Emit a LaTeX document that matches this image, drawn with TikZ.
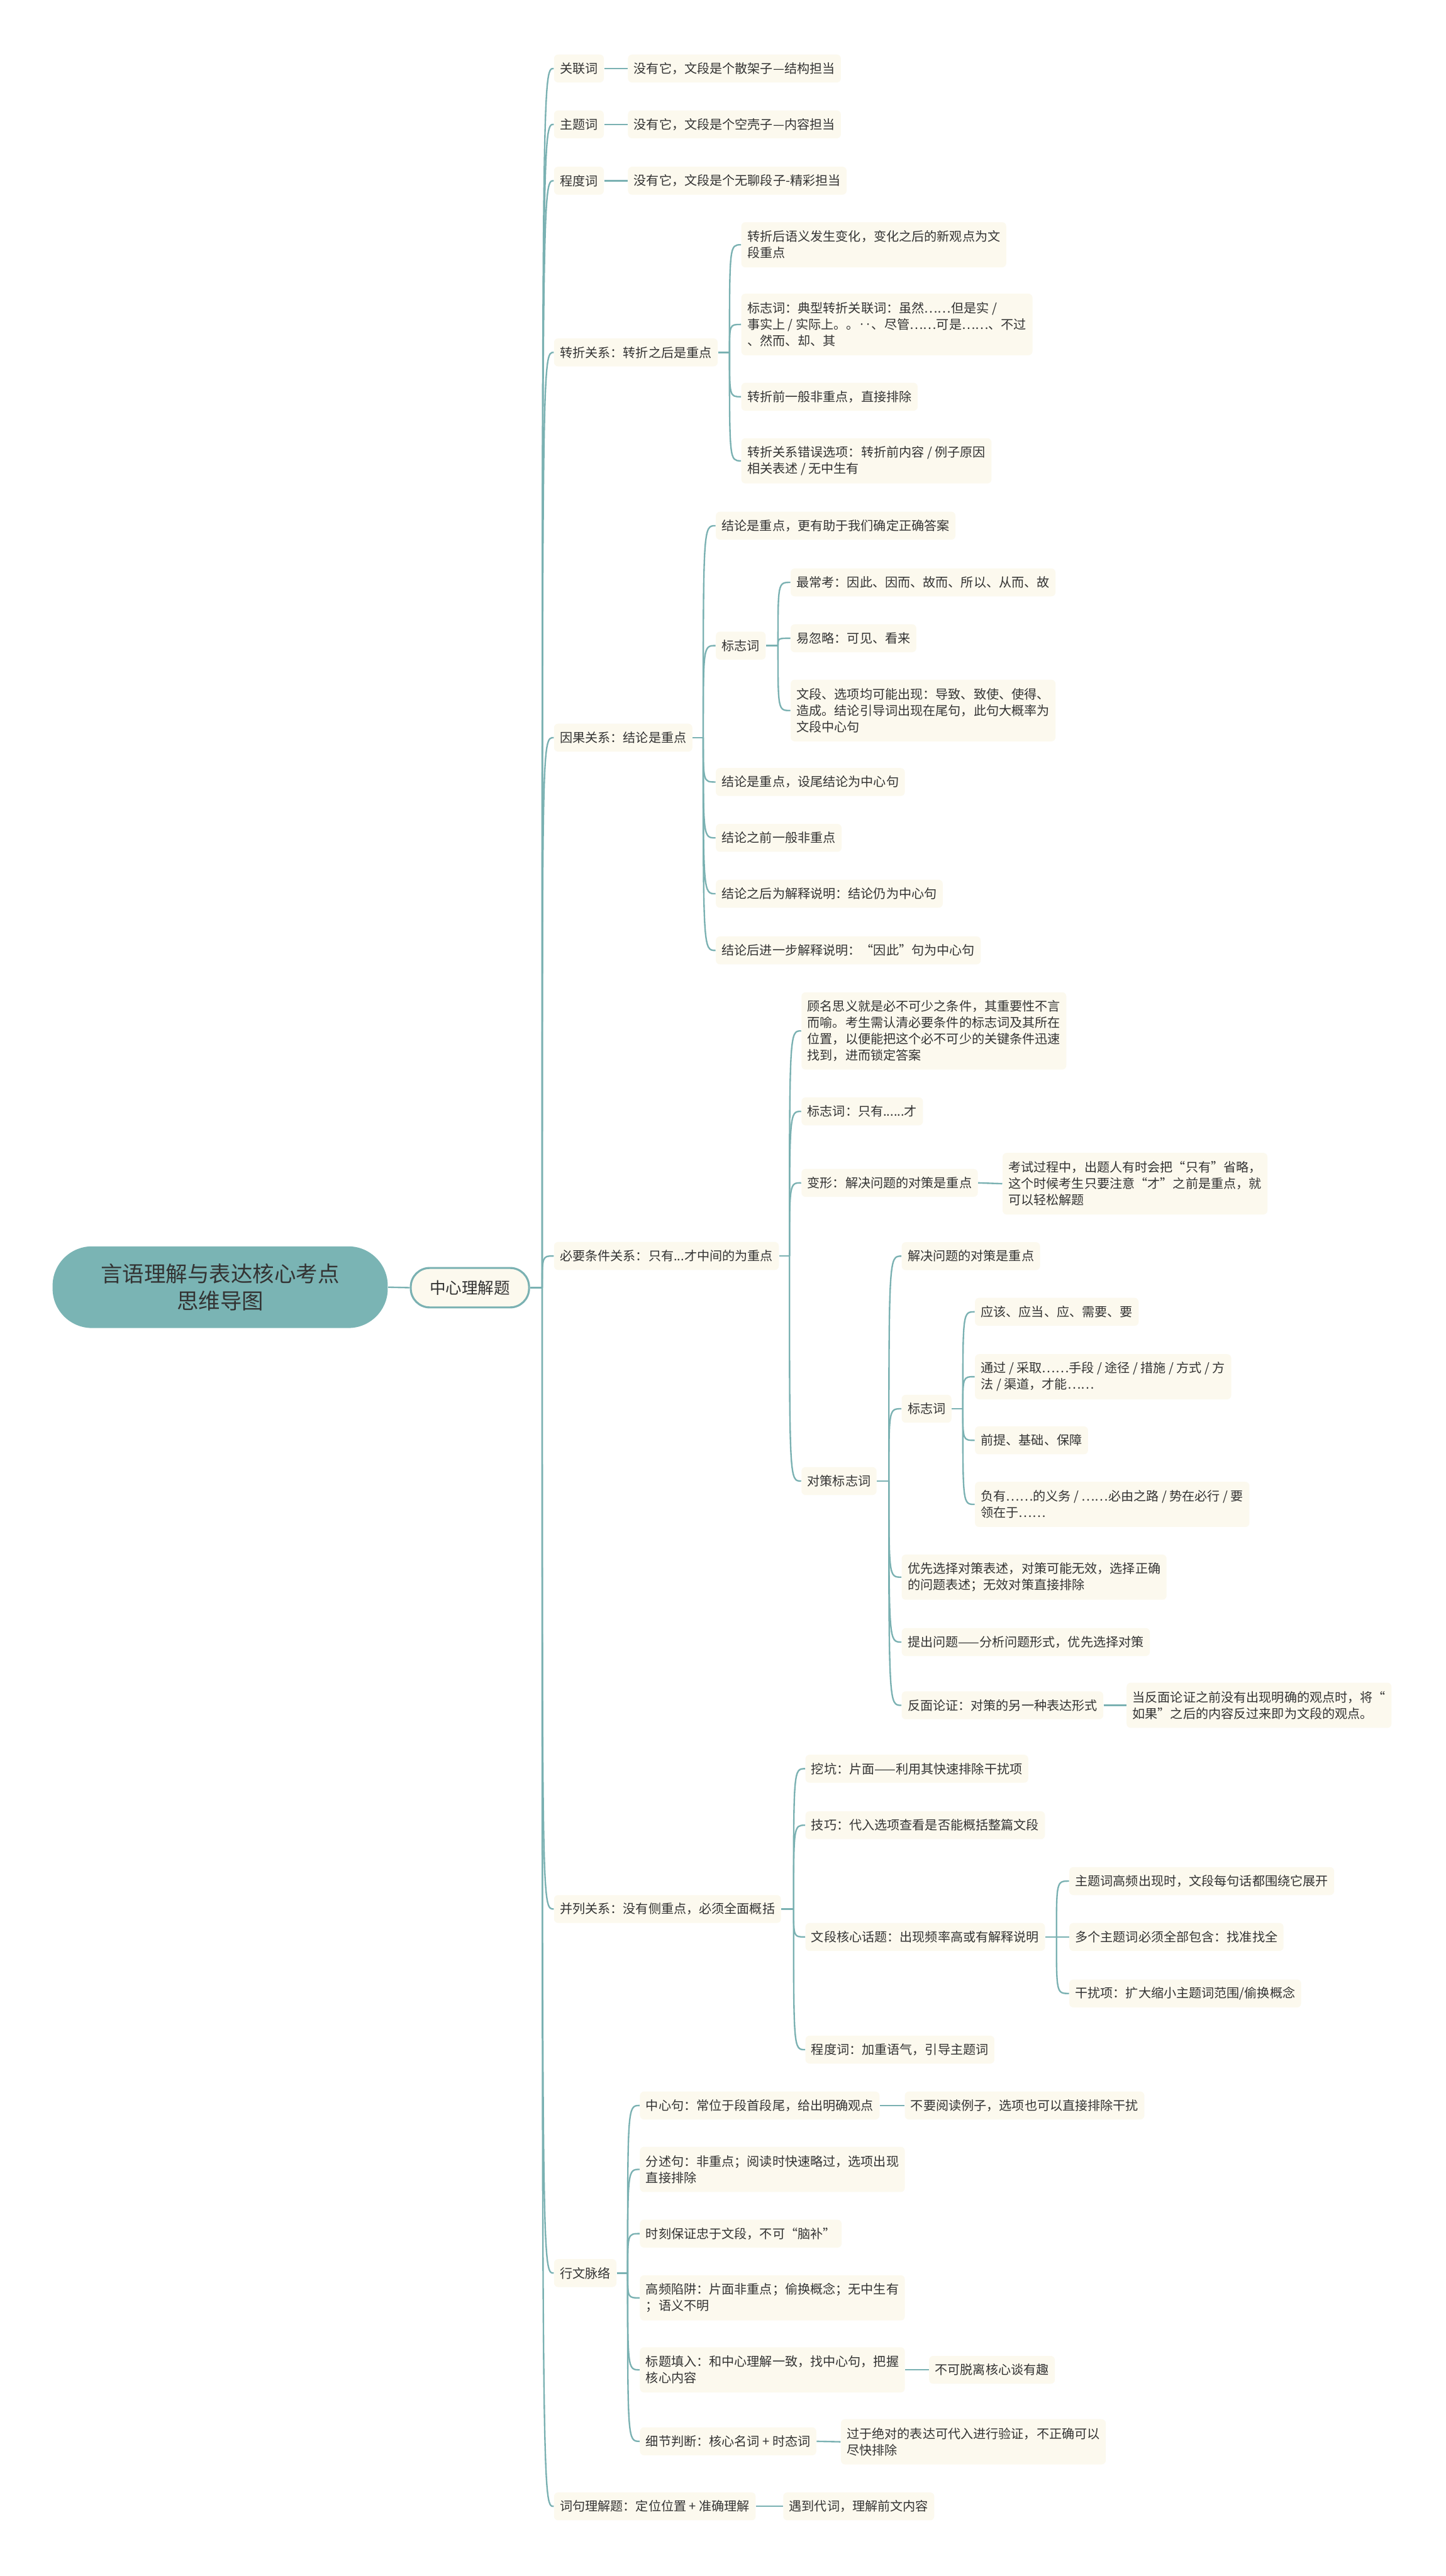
\documentclass[tikz,border=0pt]{standalone}
\usepackage{fontspec}
\setmainfont{Noto Sans CJK SC}
\definecolor{lc}{HTML}{7AB1B2}
\definecolor{rootfill}{HTML}{7AB4B4}
\definecolor{boxfill}{HTML}{FCF9EE}
\definecolor{txt}{HTML}{333333}
\newcommand\mmbranch[2]{\draw[link] (#1) .. controls (#1 |- #2.west) and (#1 |- #2.west) .. (#2.west);}
\begin{document}
\begin{tikzpicture}[x=1pt,y=-1pt,
  every node/.style={font=\fontsize{7.7}{10}\selectfont, text=txt},
  box/.style={fill=boxfill, rounded corners=2.5pt, inner xsep=3.6pt, inner ysep=0pt, align=left, anchor=west},
  one/.style={box, minimum height=17pt},
  two/.style={box, minimum height=27.5pt},
  three/.style={box, minimum height=37.5pt},
  four/.style={box, minimum height=47pt},
  link/.style={draw=lc, line width=0.9pt},
]
\fill[white] (0,0) rectangle (880,1568);
\useasboundingbox (0,0) rectangle (880,1568);

% root and center
\node[fill=rootfill, rounded corners=24pt, minimum width=204pt, minimum height=49.7pt, align=center,
  font=\fontsize{13.2}{16.5}\selectfont] (root) at (134,783.5) {言语理解与表达核心考点\\思维导图};
\node[fill=boxfill, draw=lc, line width=1.2pt, rounded corners=11.5pt, minimum width=72pt, minimum height=24pt,
  font=\fontsize{9.8}{12}\selectfont] (center) at (286,783.8) {中心理解题};
\draw[link] (root.east) -- (center.west);
\coordinate (J0) at (330,783.8);
\draw[link] (center.east) -- (J0);

% level 1
\node[one] (L1) at (337,41.7) {关联词};
\node[one] (L2) at (337,75.7) {主题词};
\node[one] (L3) at (337,110) {程度词};
\node[one] (L4) at (337,214.5) {转折关系：转折之后是重点};
\node[one] (L5) at (337,449) {因果关系：结论是重点};
\node[one] (L6) at (337,764.5) {必要条件关系：只有...才中间的为重点};
\node[one] (L7) at (337,1162) {并列关系：没有侧重点，必须全面概括};
\node[one] (L8) at (337,1383.6) {行文脉络};
\node[one] (L9) at (337,1525.6) {词句理解题：定位位置 + 准确理解};
\foreach \n in {L1,L2,L3,L4,L5,L6,L7,L8,L9} {\mmbranch{J0}{\n}}

% top three
\node[one] (A1) at (382,41.7) {没有它，文段是个散架子—结构担当};
\node[one] (A2) at (382,75.7) {没有它，文段是个空壳子—内容担当};
\node[one] (A3) at (382,110) {没有它，文段是个无聊段子-精彩担当};
\draw[link] (L1.east) -- (A1.west);
\draw[link] (L2.east) -- (A2.west);
\draw[link] (L3.east) -- (A3.west);

% 转折
\coordinate (J4) at (444,214.5);
\draw[link] (L4.east) -- (J4);
\node[two] (c1) at (451,149) {转折后语义发生变化，变化之后的新观点为文\\段重点};
\node[three] (c2) at (451,197.5) {标志词：典型转折关联词：虽然……但是实 /\\事实上 / 实际上。。‥、尽管……可是……、不过\\、然而、却、其};
\node[one] (c3) at (451,241.5) {转折前一般非重点，直接排除};
\node[two] (c4) at (451,280.5) {转折关系错误选项：转折前内容 / 例子原因\\相关表述 / 无中生有};
\foreach \n in {c1,c2,c3,c4} {\mmbranch{J4}{\n}}

% 因果
\coordinate (J5) at (428,449);
\draw[link] (L5.east) -- (J5);
\node[one] (d1) at (435.5,320) {结论是重点，更有助于我们确定正确答案};
\node[one] (d2) at (435.5,393) {标志词};
\node[one] (d3) at (435.5,476) {结论是重点，设尾结论为中心句};
\node[one] (d4) at (435.5,510) {结论之前一般非重点};
\node[one] (d5) at (435.5,544) {结论之后为解释说明：结论仍为中心句};
\node[one] (d6) at (435.5,578.5) {结论后进一步解释说明：“因此”句为中心句};
\foreach \n in {d1,d2,d3,d4,d5,d6} {\mmbranch{J5}{\n}}
\coordinate (Jd2) at (473.5,393);
\draw[link] (d2.east) -- (Jd2);
\node[one] (e1) at (481,354.5) {最常考：因此、因而、故而、所以、从而、故};
\node[one] (e2) at (481,388.5) {易忽略：可见、看来};
\node[three] (e3) at (481,432.5) {文段、选项均可能出现：导致、致使、使得、\\造成。结论引导词出现在尾句，此句大概率为\\文段中心句};
\foreach \n in {e1,e2,e3} {\mmbranch{Jd2}{\n}}

% 必要条件
\coordinate (J6) at (480.5,764.5);
\draw[link] (L6.east) -- (J6);
\node[four] (f1) at (487.6,627.5) {顾名思义就是必不可少之条件，其重要性不言\\而喻。考生需认清必要条件的标志词及其所在\\位置，以便能把这个必不可少的关键条件迅速\\找到，进而锁定答案};
\node[one] (f2) at (487.6,676.5) {标志词：只有......才};
\node[one] (f3) at (487.6,720) {变形：解决问题的对策是重点};
\node[one] (f4) at (487.6,901.5) {对策标志词};
\foreach \n in {f1,f2,f3,f4} {\mmbranch{J6}{\n}}
\node[three] (g1) at (610,720.5) {考试过程中，出题人有时会把“只有”省略，\\这个时候考生只要注意“才”之前是重点，就\\可以轻松解题};
\draw[link] (f3.east) -- (g1.west);

\coordinate (Jf4) at (541,901.5);
\draw[link] (f4.east) -- (Jf4);
\node[one] (h1) at (548.6,764.6) {解决问题的对策是重点};
\node[one] (h2) at (548.6,857.5) {标志词};
\node[two] (h3) at (548.6,960) {优先选择对策表述，对策可能无效，选择正确\\的问题表述；无效对策直接排除};
\node[one] (h4) at (548.6,999.5) {提出问题——分析问题形式，优先选择对策};
\node[one] (h5) at (548.6,1038) {反面论证：对策的另一种表达形式};
\foreach \n in {h1,h2,h3,h4,h5} {\mmbranch{Jf4}{\n}}
\coordinate (Jh2) at (586,857.5);
\draw[link] (h2.east) -- (Jh2);
\node[one] (i1) at (593.2,798.5) {应该、应当、应、需要、要};
\node[two] (i2) at (593.2,838) {通过 / 采取……手段 / 途径 / 措施 / 方式 / 方\\法 / 渠道，才能……};
\node[one] (i3) at (593.2,876.7) {前提、基础、保障};
\node[two] (i4) at (593.2,915.7) {负有……的义务 / ……必由之路 / 势在必行 / 要\\领在于……};
\foreach \n in {i1,i2,i3,i4} {\mmbranch{Jh2}{\n}}
\node[two] (j1) at (685.5,1038) {当反面论证之前没有出现明确的观点时，将“\\如果”之后的内容反过来即为文段的观点。};
\draw[link] (h5.east) -- (j1.west);

% 并列
\coordinate (J7) at (483,1162);
\draw[link] (L7.east) -- (J7);
\node[one] (k1) at (490,1076.6) {挖坑：片面——利用其快速排除干扰项};
\node[one] (k2) at (490,1111) {技巧：代入选项查看是否能概括整篇文段};
\node[one] (k3) at (490,1179) {文段核心话题：出现频率高或有解释说明};
\node[one] (k4) at (490,1247.6) {程度词：加重语气，引导主题词};
\foreach \n in {k1,k2,k3,k4} {\mmbranch{J7}{\n}}
\coordinate (Jk3) at (643,1179);
\draw[link] (k3.east) -- (Jk3);
\node[one] (l1) at (650.6,1145) {主题词高频出现时，文段每句话都围绕它展开};
\node[one] (l2) at (650.6,1179) {多个主题词必须全部包含：找准找全};
\node[one] (l3) at (650.6,1213.4) {干扰项：扩大缩小主题词范围/偷换概念};
\foreach \n in {l1,l2,l3} {\mmbranch{Jk3}{\n}}

% 行文脉络
\coordinate (J8) at (382,1383.6);
\draw[link] (L8.east) -- (J8);
\node[one] (m1) at (389.3,1281.6) {中心句：常位于段首段尾，给出明确观点};
\node[two] (m2) at (389.3,1320.5) {分述句：非重点；阅读时快速略过，选项出现\\直接排除};
\node[one] (m3) at (389.3,1359.6) {时刻保证忠于文段，不可“脑补”};
\node[two] (m4) at (389.3,1398.7) {高频陷阱：片面非重点；偷换概念；无中生有\\；语义不明};
\node[two] (m5) at (389.3,1442.5) {标题填入：和中心理解一致，找中心句，把握\\核心内容};
\node[one] (m6) at (389.3,1486) {细节判断：核心名词 + 时态词};
\foreach \n in {m1,m2,m3,m4,m5,m6} {\mmbranch{J8}{\n}}
\node[one] (n1) at (550.5,1281.6) {不要阅读例子，选项也可以直接排除干扰};
\draw[link] (m1.east) -- (n1.west);
\node[one] (o1) at (565.3,1442.5) {不可脱离核心谈有趣};
\draw[link] (m5.east) -- (o1.west);
\node[two] (p1) at (511.6,1486.3) {过于绝对的表达可代入进行验证，不正确可以\\尽快排除};
\draw[link] (m6.east) -- (p1.west);

% 词句理解题
\node[one] (r1) at (476.5,1525.6) {遇到代词，理解前文内容};
\draw[link] (L9.east) -- (r1.west);
\end{tikzpicture}
\end{document}
